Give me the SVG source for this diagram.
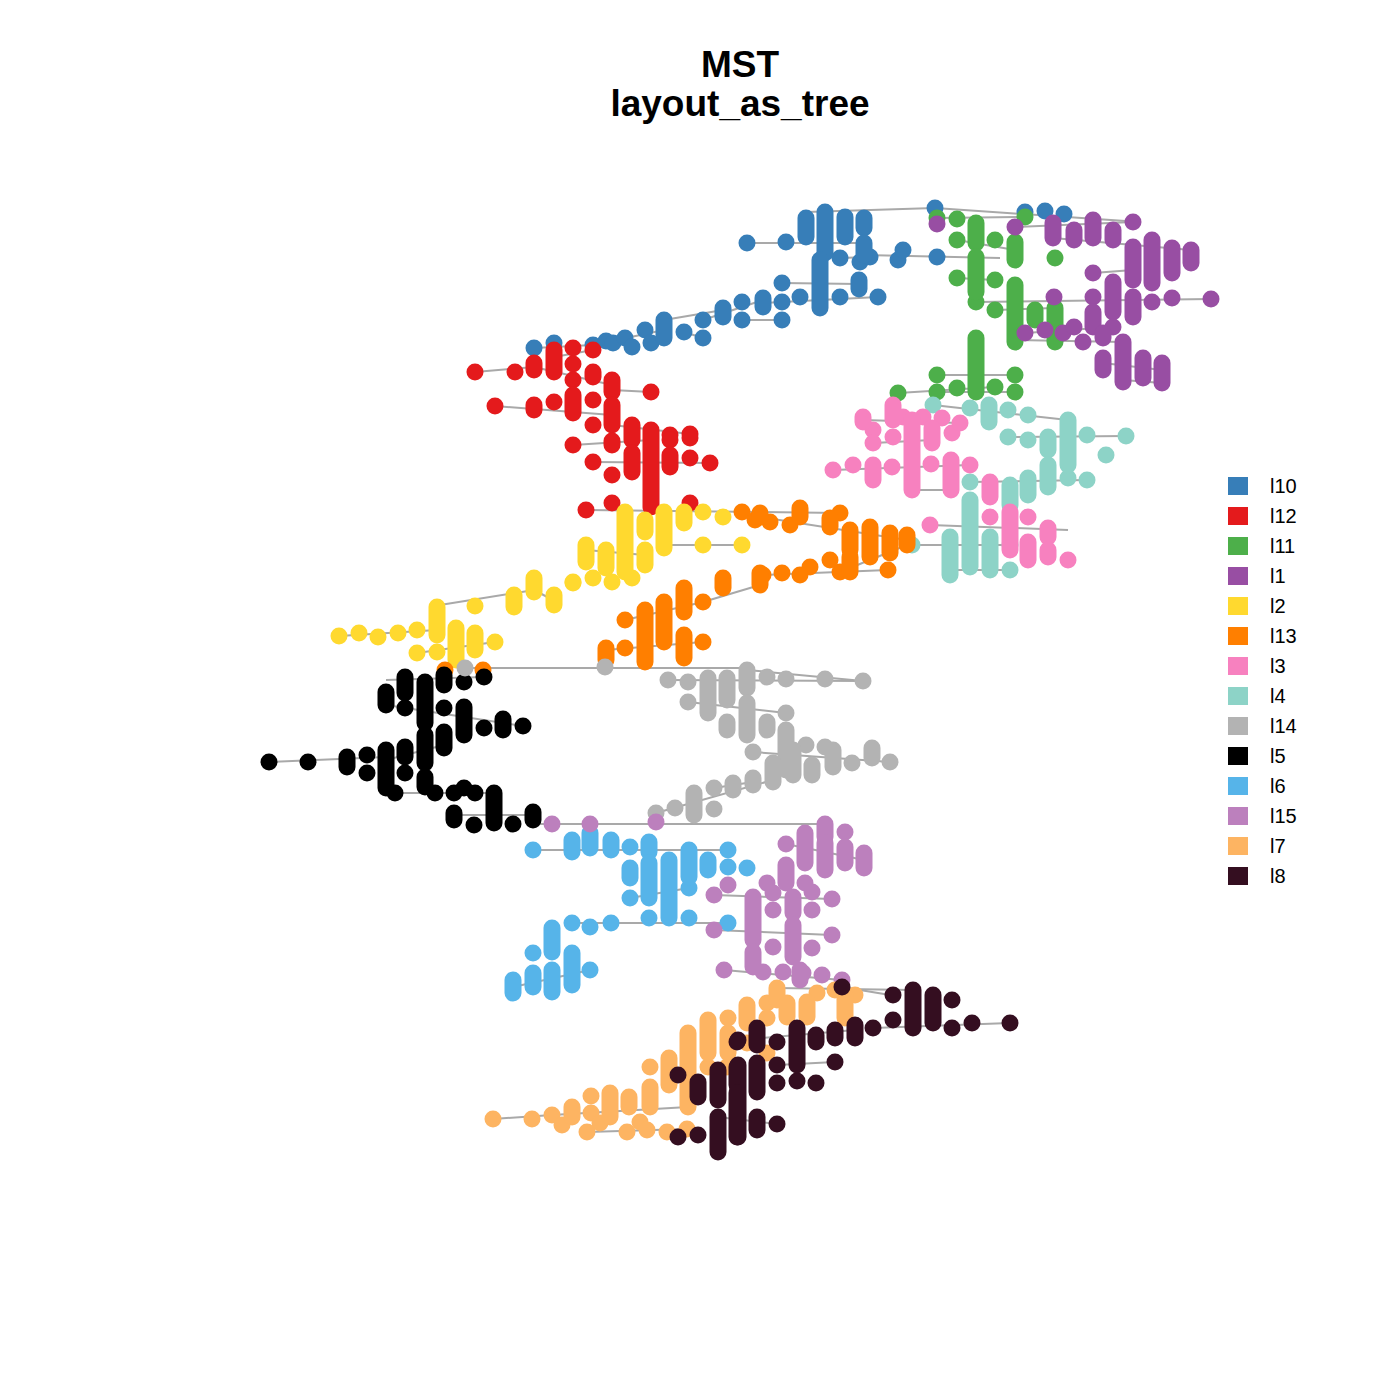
<svg xmlns="http://www.w3.org/2000/svg" width="1400" height="1400" viewBox="0 0 1400 1400">
<style>
.bg{fill:#fff}
.title{font-family:"Liberation Sans",Arial,sans-serif;font-weight:bold;font-size:37px;text-anchor:middle;fill:#000}
.lt{font-family:"Liberation Sans",Arial,sans-serif;font-size:20px;fill:#000}
.e line{stroke:#A9A9A9;stroke-width:2;fill:none}
.n circle{r:8.5}
.n line{stroke-width:17;stroke-linecap:round}
.k10 circle,.q10{fill:#377EB8}.k10 line{stroke:#377EB8}
.k12 circle,.q12{fill:#E41A1C}.k12 line{stroke:#E41A1C}
.k11 circle,.q11{fill:#4DAF4A}.k11 line{stroke:#4DAF4A}
.k1 circle,.q1{fill:#984EA3}.k1 line{stroke:#984EA3}
.k2 circle,.q2{fill:#FFD92F}.k2 line{stroke:#FFD92F}
.k13 circle,.q13{fill:#FF7F00}.k13 line{stroke:#FF7F00}
.k3 circle,.q3{fill:#F781BF}.k3 line{stroke:#F781BF}
.k4 circle,.q4{fill:#8DD3C7}.k4 line{stroke:#8DD3C7}
.k14 circle,.q14{fill:#B3B3B3}.k14 line{stroke:#B3B3B3}
.k5 circle,.q5{fill:#000000}.k5 line{stroke:#000000}
.k6 circle,.q6{fill:#56B4E9}.k6 line{stroke:#56B4E9}
.k15 circle,.q15{fill:#BC80BD}.k15 line{stroke:#BC80BD}
.k7 circle,.q7{fill:#FDB462}.k7 line{stroke:#FDB462}
.k8 circle,.q8{fill:#340E20}.k8 line{stroke:#340E20}
</style>
<rect class="bg" x="0" y="0" width="1400" height="1400"/>
<text class="title" x="740" y="77">MST</text>
<text class="title" x="740" y="116">layout_as_tree</text>

<g id="edges" class="e">
<line x1="806" y1="212" x2="935" y2="208"/><line x1="935" y1="208" x2="1140" y2="222"/>
<line x1="747" y1="243" x2="864" y2="243"/><line x1="864" y1="255" x2="1000" y2="258"/><line x1="840" y1="258" x2="870" y2="257"/>
<line x1="782" y1="283" x2="859" y2="284"/><line x1="763" y1="303" x2="878" y2="297"/><line x1="742" y1="320" x2="782" y2="320"/>
<line x1="534" y1="348" x2="593" y2="345"/><line x1="593" y1="345" x2="664" y2="330"/><line x1="664" y1="320" x2="723" y2="310"/>
<line x1="684" y1="332" x2="703" y2="338"/><line x1="703" y1="320" x2="763" y2="300"/>
<line x1="475" y1="372" x2="534" y2="367"/><line x1="534" y1="367" x2="612" y2="385"/><line x1="612" y1="390" x2="651" y2="392"/>
<line x1="495" y1="406" x2="612" y2="415"/><line x1="612" y1="425" x2="690" y2="434"/><line x1="573" y1="445" x2="651" y2="440"/>
<line x1="593" y1="462" x2="710" y2="463"/><line x1="554" y1="357" x2="593" y2="350"/>
<line x1="937" y1="218" x2="1025" y2="217"/><line x1="957" y1="278" x2="995" y2="280"/><line x1="976" y1="302" x2="1211" y2="299"/>
<line x1="995" y1="310" x2="1055" y2="308"/><line x1="1015" y1="340" x2="1123" y2="342"/><line x1="898" y1="393" x2="995" y2="387"/>
<line x1="937" y1="375" x2="1015" y2="375"/><line x1="937" y1="392" x2="1015" y2="392"/><line x1="957" y1="240" x2="1015" y2="250"/>
<line x1="1015" y1="227" x2="1133" y2="222"/><line x1="1053" y1="238" x2="1191" y2="250"/><line x1="1093" y1="273" x2="1133" y2="270"/>
<line x1="1025" y1="333" x2="1113" y2="327"/><line x1="1103" y1="363" x2="1162" y2="370"/><line x1="1123" y1="380" x2="1162" y2="383"/>
<line x1="586" y1="510" x2="760" y2="512"/><line x1="760" y1="512" x2="840" y2="513"/><line x1="760" y1="517" x2="907" y2="540"/>
<line x1="664" y1="545" x2="742" y2="545"/><line x1="440" y1="605" x2="534" y2="590"/><line x1="534" y1="590" x2="553" y2="600"/>
<line x1="339" y1="636" x2="437" y2="630"/><line x1="417" y1="653" x2="495" y2="642"/><line x1="586" y1="550" x2="645" y2="555"/>
<line x1="465" y1="668" x2="747" y2="668"/><line x1="747" y1="670" x2="863" y2="681"/>
<line x1="625" y1="620" x2="703" y2="602"/><line x1="703" y1="602" x2="760" y2="585"/><line x1="606" y1="650" x2="703" y2="642"/>
<line x1="763" y1="575" x2="888" y2="570"/><line x1="840" y1="572" x2="907" y2="545"/>
<line x1="833" y1="470" x2="970" y2="465"/><line x1="863" y1="420" x2="960" y2="423"/><line x1="873" y1="443" x2="932" y2="440"/>
<line x1="930" y1="525" x2="1068" y2="530"/><line x1="912" y1="490" x2="951" y2="490"/>
<line x1="933" y1="405" x2="1068" y2="420"/><line x1="1008" y1="437" x2="1126" y2="436"/><line x1="970" y1="482" x2="1087" y2="480"/>
<line x1="912" y1="545" x2="1010" y2="545"/><line x1="950" y1="570" x2="1010" y2="570"/>
<line x1="668" y1="680" x2="863" y2="681"/><line x1="688" y1="702" x2="786" y2="713"/><line x1="753" y1="752" x2="890" y2="762"/>
<line x1="656" y1="813" x2="773" y2="780"/><line x1="714" y1="788" x2="753" y2="782"/>
<line x1="269" y1="762" x2="386" y2="757"/><line x1="386" y1="680" x2="484" y2="677"/><line x1="386" y1="705" x2="523" y2="726"/>
<line x1="395" y1="793" x2="494" y2="793"/><line x1="454" y1="815" x2="533" y2="815"/><line x1="386" y1="760" x2="444" y2="745"/>
<line x1="533" y1="824" x2="825" y2="824"/><line x1="786" y1="844" x2="864" y2="860"/><line x1="714" y1="895" x2="832" y2="899"/>
<line x1="714" y1="930" x2="832" y2="935"/><line x1="724" y1="970" x2="842" y2="980"/>
<line x1="533" y1="850" x2="728" y2="850"/><line x1="630" y1="898" x2="689" y2="888"/><line x1="572" y1="923" x2="728" y2="923"/>
<line x1="513" y1="987" x2="590" y2="970"/>
<line x1="493" y1="1119" x2="552" y2="1115"/><line x1="552" y1="1115" x2="688" y2="1107"/><line x1="587" y1="1132" x2="687" y2="1129"/>
<line x1="777" y1="988" x2="913" y2="990"/><line x1="842" y1="987" x2="890" y2="995"/><line x1="873" y1="1028" x2="1010" y2="1023"/>
<line x1="738" y1="1040" x2="855" y2="1030"/><line x1="777" y1="1065" x2="835" y2="1062"/><line x1="718" y1="1117" x2="777" y2="1124"/>
</g>

<g id="cluster-l10" class="n k10">
<circle cx="747" cy="243"/><circle cx="786" cy="242"/><circle cx="534" cy="348"/><circle cx="554" cy="343"/><circle cx="593" cy="345"/>
<circle cx="606" cy="341"/><circle cx="613" cy="343"/><circle cx="625" cy="338"/><circle cx="632" cy="347"/><circle cx="645" cy="330"/>
<circle cx="651" cy="343"/><circle cx="684" cy="332"/><circle cx="703" cy="320"/><circle cx="703" cy="338"/><circle cx="742" cy="302"/>
<circle cx="742" cy="320"/><circle cx="935" cy="208"/><circle cx="1025" cy="212"/><circle cx="1045" cy="211"/><circle cx="1064" cy="214"/>
<circle cx="840" cy="258"/><circle cx="860" cy="262"/><circle cx="870" cy="257"/><circle cx="898" cy="260"/><circle cx="903" cy="250"/>
<circle cx="937" cy="257"/><circle cx="782" cy="283"/><circle cx="782" cy="302"/><circle cx="782" cy="320"/><circle cx="800" cy="297"/>
<circle cx="840" cy="297"/><circle cx="878" cy="297"/>
<line x1="664" y1="320" x2="664" y2="338"/><line x1="723" y1="308" x2="723" y2="317"/><line x1="806" y1="218" x2="806" y2="237"/>
<line x1="825" y1="212" x2="825" y2="253"/><line x1="845" y1="217" x2="845" y2="237"/><line x1="864" y1="218" x2="864" y2="228"/>
<line x1="864" y1="243" x2="864" y2="255"/><line x1="820" y1="260" x2="820" y2="308"/><line x1="763" y1="298" x2="763" y2="307"/>
<line x1="859" y1="280" x2="859" y2="289"/>
</g>

<g id="cluster-l11" class="n k11">
<circle cx="937" cy="218"/><circle cx="957" cy="219"/><circle cx="957" cy="240"/><circle cx="995" cy="240"/><circle cx="957" cy="278"/>
<circle cx="995" cy="280"/><circle cx="976" cy="302"/><circle cx="995" cy="310"/><circle cx="937" cy="375"/><circle cx="937" cy="392"/>
<circle cx="957" cy="388"/><circle cx="898" cy="393"/><circle cx="995" cy="387"/><circle cx="1025" cy="217"/><circle cx="1055" cy="258"/>
<circle cx="1015" cy="375"/><circle cx="1015" cy="392"/>
<line x1="976" y1="223" x2="976" y2="243"/><line x1="976" y1="257" x2="976" y2="292"/><line x1="976" y1="338" x2="976" y2="392"/>
<line x1="1015" y1="242" x2="1015" y2="260"/><line x1="1015" y1="285" x2="1015" y2="342"/><line x1="1035" y1="310" x2="1035" y2="320"/>
<line x1="1055" y1="308" x2="1055" y2="342"/>
</g>

<g id="cluster-l1" class="n k1">
<circle cx="937" cy="224"/><circle cx="1015" cy="227"/><circle cx="1133" cy="222"/><circle cx="1093" cy="273"/><circle cx="1152" cy="302"/>
<circle cx="1172" cy="298"/><circle cx="1211" cy="299"/><circle cx="1054" cy="297"/><circle cx="1093" cy="297"/><circle cx="1025" cy="333"/>
<circle cx="1045" cy="330"/><circle cx="1063" cy="333"/><circle cx="1074" cy="327"/><circle cx="1083" cy="342"/><circle cx="1113" cy="327"/>
<line x1="1053" y1="223" x2="1053" y2="238"/><line x1="1074" y1="230" x2="1074" y2="240"/><line x1="1093" y1="220" x2="1093" y2="238"/>
<line x1="1113" y1="230" x2="1113" y2="240"/><line x1="1133" y1="247" x2="1133" y2="280"/><line x1="1152" y1="240" x2="1152" y2="283"/>
<line x1="1172" y1="248" x2="1172" y2="273"/><line x1="1191" y1="250" x2="1191" y2="263"/><line x1="1113" y1="282" x2="1113" y2="312"/>
<line x1="1133" y1="297" x2="1133" y2="317"/><line x1="1093" y1="312" x2="1093" y2="327"/><line x1="1103" y1="333" x2="1103" y2="338"/>
<line x1="1123" y1="342" x2="1123" y2="382"/><line x1="1103" y1="358" x2="1103" y2="370"/><line x1="1143" y1="358" x2="1143" y2="378"/>
<line x1="1162" y1="363" x2="1162" y2="383"/>
</g>

<g id="cluster-l12" class="n k12">
<circle cx="475" cy="372"/><circle cx="515" cy="372"/><circle cx="495" cy="406"/><circle cx="554" cy="402"/><circle cx="593" cy="350"/>
<circle cx="593" cy="400"/><circle cx="593" cy="425"/><circle cx="651" cy="392"/><circle cx="670" cy="435"/><circle cx="690" cy="434"/>
<circle cx="573" cy="445"/><circle cx="593" cy="462"/><circle cx="612" cy="475"/><circle cx="586" cy="510"/><circle cx="612" cy="503"/>
<circle cx="690" cy="503"/><circle cx="710" cy="463"/><circle cx="670" cy="440"/><circle cx="690" cy="438"/><circle cx="690" cy="458"/>
<circle cx="573" cy="348"/><circle cx="573" cy="364"/><circle cx="573" cy="380"/>
<line x1="534" y1="363" x2="534" y2="370"/><line x1="554" y1="350" x2="554" y2="372"/><line x1="573" y1="395" x2="573" y2="413"/>
<line x1="593" y1="372" x2="593" y2="377"/><line x1="612" y1="380" x2="612" y2="392"/><line x1="612" y1="405" x2="612" y2="425"/>
<line x1="612" y1="441" x2="612" y2="445"/><line x1="534" y1="405" x2="534" y2="410"/><line x1="632" y1="425" x2="632" y2="440"/>
<line x1="632" y1="453" x2="632" y2="472"/><line x1="651" y1="430" x2="651" y2="507"/><line x1="670" y1="455" x2="670" y2="467"/>
</g>

<g id="cluster-l4" class="n k4">
<circle cx="933" cy="405"/><circle cx="970" cy="408"/><circle cx="1008" cy="410"/><circle cx="1028" cy="415"/><circle cx="1008" cy="437"/>
<circle cx="1028" cy="440"/><circle cx="1068" cy="478"/><circle cx="970" cy="482"/><circle cx="912" cy="545"/><circle cx="1010" cy="545"/>
<circle cx="1010" cy="570"/><circle cx="1126" cy="436"/><circle cx="1106" cy="455"/><circle cx="1087" cy="480"/><circle cx="1087" cy="435"/>
<line x1="989" y1="405" x2="989" y2="422"/><line x1="1048" y1="437" x2="1048" y2="450"/><line x1="1068" y1="420" x2="1068" y2="465"/>
<line x1="1048" y1="465" x2="1048" y2="487"/><line x1="1028" y1="478" x2="1028" y2="495"/><line x1="1010" y1="485" x2="1010" y2="505"/>
<line x1="970" y1="500" x2="970" y2="567"/><line x1="950" y1="537" x2="950" y2="575"/><line x1="990" y1="537" x2="990" y2="570"/>
</g>

<g id="cluster-l3" class="n k3">
<circle cx="903" cy="417"/><circle cx="873" cy="430"/><circle cx="873" cy="443"/><circle cx="893" cy="437"/><circle cx="923" cy="417"/>
<circle cx="942" cy="418"/><circle cx="952" cy="433"/><circle cx="960" cy="423"/><circle cx="833" cy="470"/><circle cx="853" cy="465"/>
<circle cx="892" cy="467"/><circle cx="931" cy="464"/><circle cx="970" cy="465"/><circle cx="990" cy="517"/><circle cx="930" cy="525"/>
<circle cx="1028" cy="517"/><circle cx="1068" cy="560"/>
<line x1="863" y1="417" x2="863" y2="422"/><line x1="893" y1="405" x2="893" y2="420"/><line x1="912" y1="420" x2="912" y2="490"/>
<line x1="932" y1="428" x2="932" y2="443"/><line x1="873" y1="465" x2="873" y2="480"/><line x1="951" y1="460" x2="951" y2="490"/>
<line x1="990" y1="482" x2="990" y2="497"/><line x1="1010" y1="512" x2="1010" y2="550"/><line x1="1048" y1="528" x2="1048" y2="537"/>
<line x1="1028" y1="542" x2="1028" y2="560"/><line x1="1048" y1="550" x2="1048" y2="557"/>
</g>

<g id="cluster-l2" class="n k2">
<circle cx="703" cy="512"/><circle cx="723" cy="517"/><circle cx="703" cy="545"/><circle cx="742" cy="545"/><circle cx="593" cy="578"/>
<circle cx="612" cy="582"/><circle cx="632" cy="578"/><circle cx="573" cy="582"/><circle cx="475" cy="606"/><circle cx="339" cy="636"/>
<circle cx="359" cy="633"/><circle cx="378" cy="637"/><circle cx="398" cy="633"/><circle cx="417" cy="630"/><circle cx="495" cy="642"/>
<circle cx="417" cy="653"/><circle cx="437" cy="652"/><circle cx="573" cy="583"/>
<line x1="625" y1="512" x2="625" y2="572"/><line x1="645" y1="520" x2="645" y2="532"/><line x1="664" y1="512" x2="664" y2="548"/>
<line x1="684" y1="512" x2="684" y2="523"/><line x1="586" y1="545" x2="586" y2="562"/><line x1="606" y1="550" x2="606" y2="568"/>
<line x1="645" y1="550" x2="645" y2="565"/><line x1="534" y1="578" x2="534" y2="592"/><line x1="554" y1="595" x2="554" y2="605"/>
<line x1="514" y1="595" x2="514" y2="607"/><line x1="437" y1="607" x2="437" y2="635"/><line x1="456" y1="628" x2="456" y2="660"/>
<line x1="475" y1="633" x2="475" y2="650"/>
</g>

<g id="cluster-l13" class="n k13">
<circle cx="742" cy="512"/><circle cx="755" cy="520"/><circle cx="703" cy="602"/><circle cx="625" cy="620"/><circle cx="625" cy="648"/>
<circle cx="703" cy="642"/><circle cx="770" cy="522"/><circle cx="790" cy="525"/><circle cx="840" cy="513"/><circle cx="888" cy="570"/>
<circle cx="840" cy="572"/><circle cx="830" cy="560"/><circle cx="810" cy="567"/><circle cx="800" cy="575"/><circle cx="782" cy="573"/>
<circle cx="763" cy="575"/><circle cx="445" cy="670"/><circle cx="483" cy="670"/>
<line x1="723" y1="578" x2="723" y2="588"/><line x1="760" y1="573" x2="760" y2="585"/><line x1="684" y1="588" x2="684" y2="612"/>
<line x1="664" y1="602" x2="664" y2="642"/><line x1="645" y1="610" x2="645" y2="662"/><line x1="684" y1="635" x2="684" y2="658"/>
<line x1="606" y1="648" x2="606" y2="660"/><line x1="760" y1="513" x2="760" y2="517"/><line x1="800" y1="508" x2="800" y2="517"/>
<line x1="830" y1="518" x2="830" y2="527"/><line x1="850" y1="530" x2="850" y2="550"/><line x1="870" y1="527" x2="870" y2="557"/>
<line x1="890" y1="533" x2="890" y2="553"/><line x1="907" y1="535" x2="907" y2="545"/><line x1="850" y1="557" x2="850" y2="572"/>
</g>

<g id="cluster-l5" class="n k5">
<circle cx="464" cy="682"/><circle cx="484" cy="677"/><circle cx="405" cy="708"/><circle cx="444" cy="708"/><circle cx="484" cy="728"/>
<circle cx="523" cy="726"/><circle cx="367" cy="755"/><circle cx="367" cy="773"/><circle cx="308" cy="762"/><circle cx="269" cy="762"/>
<circle cx="405" cy="773"/><circle cx="395" cy="793"/><circle cx="435" cy="793"/><circle cx="454" cy="793"/><circle cx="464" cy="788"/>
<circle cx="475" cy="793"/><circle cx="474" cy="825"/><circle cx="513" cy="824"/>
<line x1="405" y1="677" x2="405" y2="693"/><line x1="425" y1="682" x2="425" y2="723"/><line x1="444" y1="675" x2="444" y2="685"/>
<line x1="386" y1="692" x2="386" y2="705"/><line x1="464" y1="707" x2="464" y2="735"/><line x1="503" y1="719" x2="503" y2="730"/>
<line x1="444" y1="732" x2="444" y2="748"/><line x1="425" y1="735" x2="425" y2="763"/><line x1="405" y1="747" x2="405" y2="757"/>
<line x1="386" y1="750" x2="386" y2="788"/><line x1="347" y1="757" x2="347" y2="767"/><line x1="425" y1="777" x2="425" y2="787"/>
<line x1="494" y1="793" x2="494" y2="823"/><line x1="454" y1="813" x2="454" y2="820"/><line x1="533" y1="812" x2="533" y2="820"/>
</g>

<g id="cluster-l14" class="n k14">
<circle cx="465" cy="668"/><circle cx="605" cy="667"/><circle cx="668" cy="680"/><circle cx="767" cy="677"/><circle cx="786" cy="679"/>
<circle cx="825" cy="679"/><circle cx="863" cy="681"/><circle cx="786" cy="713"/><circle cx="753" cy="752"/><circle cx="806" cy="745"/>
<circle cx="825" cy="747"/><circle cx="852" cy="763"/><circle cx="890" cy="762"/><circle cx="714" cy="788"/><circle cx="714" cy="809"/>
<circle cx="675" cy="808"/><circle cx="656" cy="813"/><circle cx="688" cy="682"/><circle cx="688" cy="702"/>
<line x1="708" y1="678" x2="708" y2="713"/><line x1="727" y1="678" x2="727" y2="700"/><line x1="747" y1="670" x2="747" y2="688"/>
<line x1="747" y1="703" x2="747" y2="735"/><line x1="727" y1="722" x2="727" y2="730"/><line x1="767" y1="722" x2="767" y2="730"/>
<line x1="786" y1="730" x2="786" y2="770"/><line x1="793" y1="750" x2="793" y2="775"/><line x1="833" y1="750" x2="833" y2="767"/>
<line x1="872" y1="748" x2="872" y2="758"/><line x1="812" y1="765" x2="812" y2="775"/><line x1="773" y1="763" x2="773" y2="782"/>
<line x1="753" y1="778" x2="753" y2="785"/><line x1="733" y1="783" x2="733" y2="790"/><line x1="694" y1="793" x2="694" y2="815"/>
</g>

<g id="cluster-l6" class="n k6">
<circle cx="533" cy="850"/><circle cx="630" cy="847"/><circle cx="630" cy="898"/><circle cx="689" cy="888"/><circle cx="689" cy="918"/>
<circle cx="747" cy="868"/><circle cx="728" cy="850"/><circle cx="728" cy="867"/><circle cx="728" cy="923"/><circle cx="649" cy="918"/>
<circle cx="611" cy="923"/><circle cx="590" cy="927"/><circle cx="572" cy="923"/><circle cx="533" cy="953"/><circle cx="590" cy="970"/>
<line x1="572" y1="840" x2="572" y2="852"/><line x1="590" y1="833" x2="590" y2="848"/><line x1="611" y1="840" x2="611" y2="850"/>
<line x1="649" y1="842" x2="649" y2="852"/><line x1="649" y1="863" x2="649" y2="898"/><line x1="630" y1="868" x2="630" y2="878"/>
<line x1="669" y1="860" x2="669" y2="918"/><line x1="689" y1="850" x2="689" y2="877"/><line x1="708" y1="860" x2="708" y2="870"/>
<line x1="552" y1="928" x2="552" y2="952"/><line x1="572" y1="953" x2="572" y2="985"/><line x1="552" y1="970" x2="552" y2="992"/>
<line x1="533" y1="973" x2="533" y2="987"/><line x1="513" y1="980" x2="513" y2="993"/>
</g>

<g id="cluster-l15" class="n k15">
<circle cx="552" cy="824"/><circle cx="590" cy="824"/><circle cx="656" cy="822"/><circle cx="845" cy="832"/><circle cx="786" cy="844"/>
<circle cx="728" cy="885"/><circle cx="714" cy="895"/><circle cx="767" cy="883"/><circle cx="805" cy="883"/><circle cx="832" cy="899"/>
<circle cx="714" cy="930"/><circle cx="773" cy="947"/><circle cx="812" cy="948"/><circle cx="832" cy="935"/><circle cx="724" cy="970"/>
<circle cx="763" cy="972"/><circle cx="783" cy="972"/><circle cx="803" cy="973"/><circle cx="822" cy="975"/><circle cx="842" cy="980"/>
<circle cx="773" cy="893"/><circle cx="773" cy="910"/><circle cx="812" cy="892"/><circle cx="812" cy="910"/>
<line x1="825" y1="824" x2="825" y2="837"/><line x1="805" y1="833" x2="805" y2="863"/><line x1="825" y1="843" x2="825" y2="870"/>
<line x1="845" y1="847" x2="845" y2="863"/><line x1="864" y1="853" x2="864" y2="868"/><line x1="786" y1="865" x2="786" y2="883"/>
<line x1="753" y1="897" x2="753" y2="940"/><line x1="793" y1="897" x2="793" y2="913"/><line x1="793" y1="925" x2="793" y2="957"/>
<line x1="753" y1="952" x2="753" y2="967"/><line x1="800" y1="970" x2="800" y2="980"/>
</g>

<g id="cluster-l7" class="n k7">
<circle cx="493" cy="1119"/><circle cx="532" cy="1119"/><circle cx="552" cy="1115"/><circle cx="562" cy="1125"/><circle cx="591" cy="1096"/>
<circle cx="591" cy="1113"/><circle cx="587" cy="1132"/><circle cx="600" cy="1123"/><circle cx="627" cy="1132"/><circle cx="640" cy="1122"/>
<circle cx="647" cy="1130"/><circle cx="650" cy="1067"/><circle cx="667" cy="1132"/><circle cx="687" cy="1129"/><circle cx="708" cy="1067"/>
<circle cx="728" cy="1018"/><circle cx="747" cy="1043"/><circle cx="767" cy="1003"/><circle cx="767" cy="1018"/><circle cx="817" cy="993"/>
<circle cx="835" cy="990"/><circle cx="855" cy="995"/><circle cx="767" cy="1053"/><circle cx="727" cy="1067"/>
<line x1="572" y1="1107" x2="572" y2="1117"/><line x1="610" y1="1093" x2="610" y2="1117"/><line x1="629" y1="1097" x2="629" y2="1107"/>
<line x1="650" y1="1087" x2="650" y2="1107"/><line x1="669" y1="1058" x2="669" y2="1085"/><line x1="688" y1="1033" x2="688" y2="1107"/>
<line x1="708" y1="1020" x2="708" y2="1053"/><line x1="728" y1="1033" x2="728" y2="1053"/><line x1="747" y1="1005" x2="747" y2="1023"/>
<line x1="777" y1="988" x2="777" y2="1000"/><line x1="787" y1="1003" x2="787" y2="1017"/><line x1="807" y1="1002" x2="807" y2="1017"/>
<line x1="845" y1="997" x2="845" y2="1018"/>
</g>

<g id="cluster-l8" class="n k8">
<circle cx="678" cy="1075"/><circle cx="678" cy="1137"/><circle cx="698" cy="1135"/><circle cx="738" cy="1040"/><circle cx="842" cy="987"/>
<circle cx="893" cy="995"/><circle cx="952" cy="1000"/><circle cx="893" cy="1020"/><circle cx="952" cy="1028"/><circle cx="972" cy="1023"/>
<circle cx="1010" cy="1023"/><circle cx="873" cy="1028"/><circle cx="835" cy="1062"/><circle cx="777" cy="1042"/><circle cx="737" cy="1042"/>
<circle cx="777" cy="1065"/><circle cx="777" cy="1083"/><circle cx="797" cy="1081"/><circle cx="816" cy="1083"/><circle cx="777" cy="1124"/>
<line x1="698" y1="1082" x2="698" y2="1097"/><line x1="718" y1="1070" x2="718" y2="1100"/><line x1="718" y1="1117" x2="718" y2="1152"/>
<line x1="738" y1="1065" x2="738" y2="1137"/><line x1="757" y1="1028" x2="757" y2="1045"/><line x1="757" y1="1063" x2="757" y2="1092"/>
<line x1="757" y1="1117" x2="757" y2="1130"/><line x1="913" y1="990" x2="913" y2="1028"/><line x1="933" y1="995" x2="933" y2="1023"/>
<line x1="855" y1="1025" x2="855" y2="1038"/><line x1="835" y1="1030" x2="835" y2="1038"/><line x1="816" y1="1035" x2="816" y2="1042"/>
<line x1="797" y1="1028" x2="797" y2="1065"/><line x1="737" y1="1067" x2="737" y2="1085"/><line x1="737" y1="1093" x2="737" y2="1137"/>
</g>

<g id="legend">
<rect class="q10" x="1228" y="477" width="20" height="18"/><text class="lt" x="1270" y="493">l10</text>
<rect class="q12" x="1228" y="507" width="20" height="18"/><text class="lt" x="1270" y="523">l12</text>
<rect class="q11" x="1228" y="537" width="20" height="18"/><text class="lt" x="1270" y="553">l11</text>
<rect class="q1" x="1228" y="567" width="20" height="18"/><text class="lt" x="1270" y="583">l1</text>
<rect class="q2" x="1228" y="597" width="20" height="18"/><text class="lt" x="1270" y="613">l2</text>
<rect class="q13" x="1228" y="627" width="20" height="18"/><text class="lt" x="1270" y="643">l13</text>
<rect class="q3" x="1228" y="657" width="20" height="18"/><text class="lt" x="1270" y="673">l3</text>
<rect class="q4" x="1228" y="687" width="20" height="18"/><text class="lt" x="1270" y="703">l4</text>
<rect class="q14" x="1228" y="717" width="20" height="18"/><text class="lt" x="1270" y="733">l14</text>
<rect class="q5" x="1228" y="747" width="20" height="18"/><text class="lt" x="1270" y="763">l5</text>
<rect class="q6" x="1228" y="777" width="20" height="18"/><text class="lt" x="1270" y="793">l6</text>
<rect class="q15" x="1228" y="807" width="20" height="18"/><text class="lt" x="1270" y="823">l15</text>
<rect class="q7" x="1228" y="837" width="20" height="18"/><text class="lt" x="1270" y="853">l7</text>
<rect class="q8" x="1228" y="867" width="20" height="18"/><text class="lt" x="1270" y="883">l8</text>
</g>
</svg>
